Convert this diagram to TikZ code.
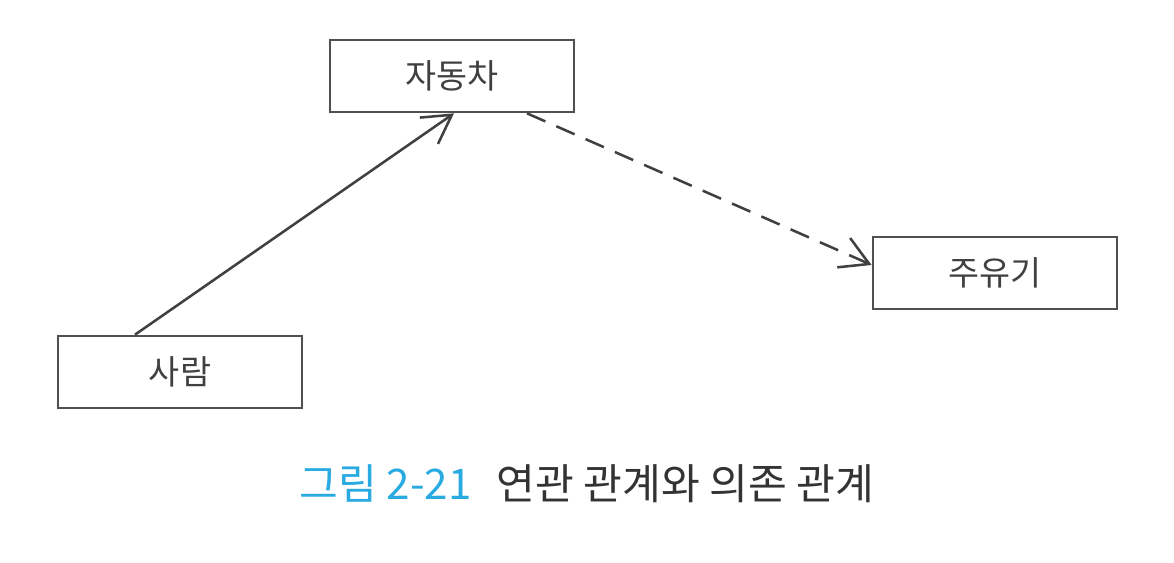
\documentclass[tikz,border=0pt]{standalone}
\usepackage{fontspec}
\setmainfont{Noto Sans CJK KR}
\usetikzlibrary{arrows.meta}
\definecolor{boxline}{RGB}{80,80,80}
\definecolor{figblue}{RGB}{41,170,225}
\tikzstyle{klasse} = [draw=boxline, line width=1.9pt, minimum width=6.1cm, minimum height=1.8cm, inner sep=0pt, text=black!75, font=\fontsize{24}{28}\selectfont]
\tikzstyle{assoc} = [draw=black!75, line width=1.8pt, -{Straight Barb[length=7mm,width=8mm,line width=1.8pt]}]
\tikzstyle{depend} = [assoc, dash pattern=on 5mm off 3mm]

\begin{document}
\begin{tikzpicture}
\useasboundingbox (0,0) rectangle (29.35,14.05);
\node[klasse] (auto) at (11.3,12.15) {자동차};
\node[klasse] (pump) at (24.875,7.225) {주유기};
\node[klasse] (person) at (4.5,4.75) {사람};
\draw[assoc] ([xshift=-1.125cm]person.north) -- ([xshift=0.05cm]auto.south);
\draw[depend] ([xshift=1.875cm]auto.south) -- ([yshift=0.2cm]pump.west);
\node[font=\fontsize{30}{36}\selectfont, text=black!80] (caption) at (14.675,1.95) {\textcolor{figblue}{그림 2-21}\hspace{0.6em}연관 관계와 의존 관계};
\end{tikzpicture}
\end{document}
